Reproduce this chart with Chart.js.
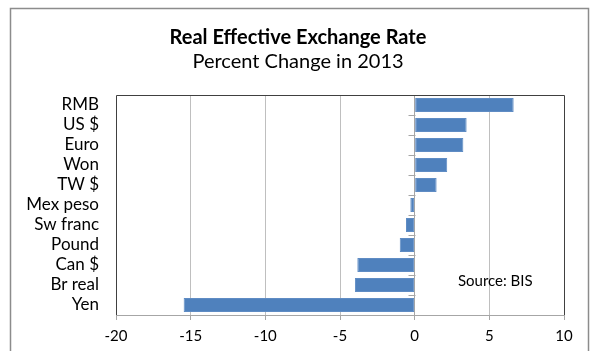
<!DOCTYPE html>
<html><head><meta charset="utf-8">
<script src="https://cdn.jsdelivr.net/npm/chart.js@4/dist/chart.umd.min.js"></script>
<style>html,body{margin:0;padding:0;background:#fff;}#wrap{width:592px;height:351px;position:relative;}</style>
</head><body><div id="wrap"><canvas id="c" width="592" height="351"></canvas></div>
<script>
const categories = ['RMB','US $','Euro','Won','TW $','Mex peso','Sw franc','Pound','Can $','Br real','Yen'];
const values = [6.63, 3.48, 3.26, 2.18, 1.47, -0.29, -0.58, -1.0, -3.84, -4.0, -15.47];
const xMin = -20, xMax = 10, xStep = 5;
const titleText = 'Real Effective Exchange Rate';
const subtitleText = 'Percent Change in 2013';
const sourceText = 'Source: BIS';
const FONT = 'Lato, "Open Sans", sans-serif';

const decor = {
  id: 'decor',
  beforeDraw(chart) {
    const ctx = chart.ctx;
    ctx.save();
    ctx.fillStyle = '#fff';
    ctx.fillRect(0, 0, chart.width, chart.height);
    ctx.strokeStyle = '#8c8c8c';
    ctx.lineWidth = 1.5;
    ctx.strokeRect(10.5, 8.5, 578, 400);
    ctx.restore();
  },
  afterDatasetsDraw(chart) {
    const ctx = chart.ctx, a = chart.chartArea;
    const xs = chart.scales.x, ys = chart.scales.y;
    const x0 = Math.round(xs.getPixelForValue(0)) + 0.5;
    ctx.save();
    ctx.strokeStyle = '#a6a6a6';
    ctx.lineWidth = 1;
    const step = (ys.getPixelForValue(1) - ys.getPixelForValue(0));
    for (let i = 0; i <= categories.length; i++) {
      const y = Math.round(ys.getPixelForValue(i) - step / 2) + 0.5;
      ctx.beginPath(); ctx.moveTo(x0 - 7, y); ctx.lineTo(x0, y); ctx.stroke();
    }
    ctx.strokeStyle = '#404040';
    ctx.beginPath();
    ctx.moveTo(Math.round(a.left) + 0.5, Math.round(a.bottom));
    ctx.lineTo(Math.round(a.left) + 0.5, Math.round(a.top) + 0.5);
    ctx.lineTo(Math.round(a.right) + 0.5, Math.round(a.top) + 0.5);
    ctx.lineTo(Math.round(a.right) + 0.5, Math.round(a.bottom));
    ctx.stroke();
    ctx.fillStyle = '#000';
    ctx.textBaseline = 'middle';
    ctx.textAlign = 'left';
    ctx.font = '15px ' + FONT;
    ctx.fillText(sourceText, xs.getPixelForValue(2.9), (ys.getPixelForValue(8) + ys.getPixelForValue(9)) / 2 + 6);
    // titles, centred on the outer frame
    ctx.textAlign = 'center';
    ctx.font = 'bold 20px ' + FONT;
    ctx.fillText(titleText, 298, 38);
    ctx.font = '20px ' + FONT;
    ctx.fillText(subtitleText, 298, 62);
    ctx.restore();
  }
};

new Chart(document.getElementById('c'), {
  type: 'bar',
  data: {
    labels: categories,
    datasets: [{
      data: values,
      backgroundColor: '#4f81bd',
      borderColor: '#5f8cc4',
      borderWidth: 1,
      borderSkipped: false,
      categoryPercentage: 1,
      barPercentage: 0.7
    }]
  },
  options: {
    indexAxis: 'y',
    responsive: false,
    animation: false,
    layout: { padding: { left: 0, right: 28, top: 95, bottom: 0 } },
    plugins: {
      legend: { display: false },
      tooltip: { enabled: false },
      title: { display: false },
      subtitle: { display: false }
    },
    scales: {
      x: {
        type: 'linear', min: xMin, max: xMax,
        afterFit(s) { s.height = 36; },
        ticks: { stepSize: xStep, color: '#000', padding: 7, font: { family: FONT, size: 15 } },
        grid: {
          color: c => (c.tick.value === xMin || c.tick.value === xMax) ? 'rgba(0,0,0,0)' : (c.tick.value === 0 ? '#a6a6a6' : '#bfbfbf'),
          tickColor: '#a6a6a6', tickLength: 5, lineWidth: 1
        },
        border: { display: true, color: '#a6a6a6' }
      },
      y: {
        afterFit(s) { s.width = 116; },
        ticks: { color: '#000', padding: 17, autoSkip: false, font: { family: FONT, size: 17 } },
        grid: { display: false, drawTicks: false },
        border: { display: false }
      }
    }
  },
  plugins: [decor]
});
</script></body></html>
